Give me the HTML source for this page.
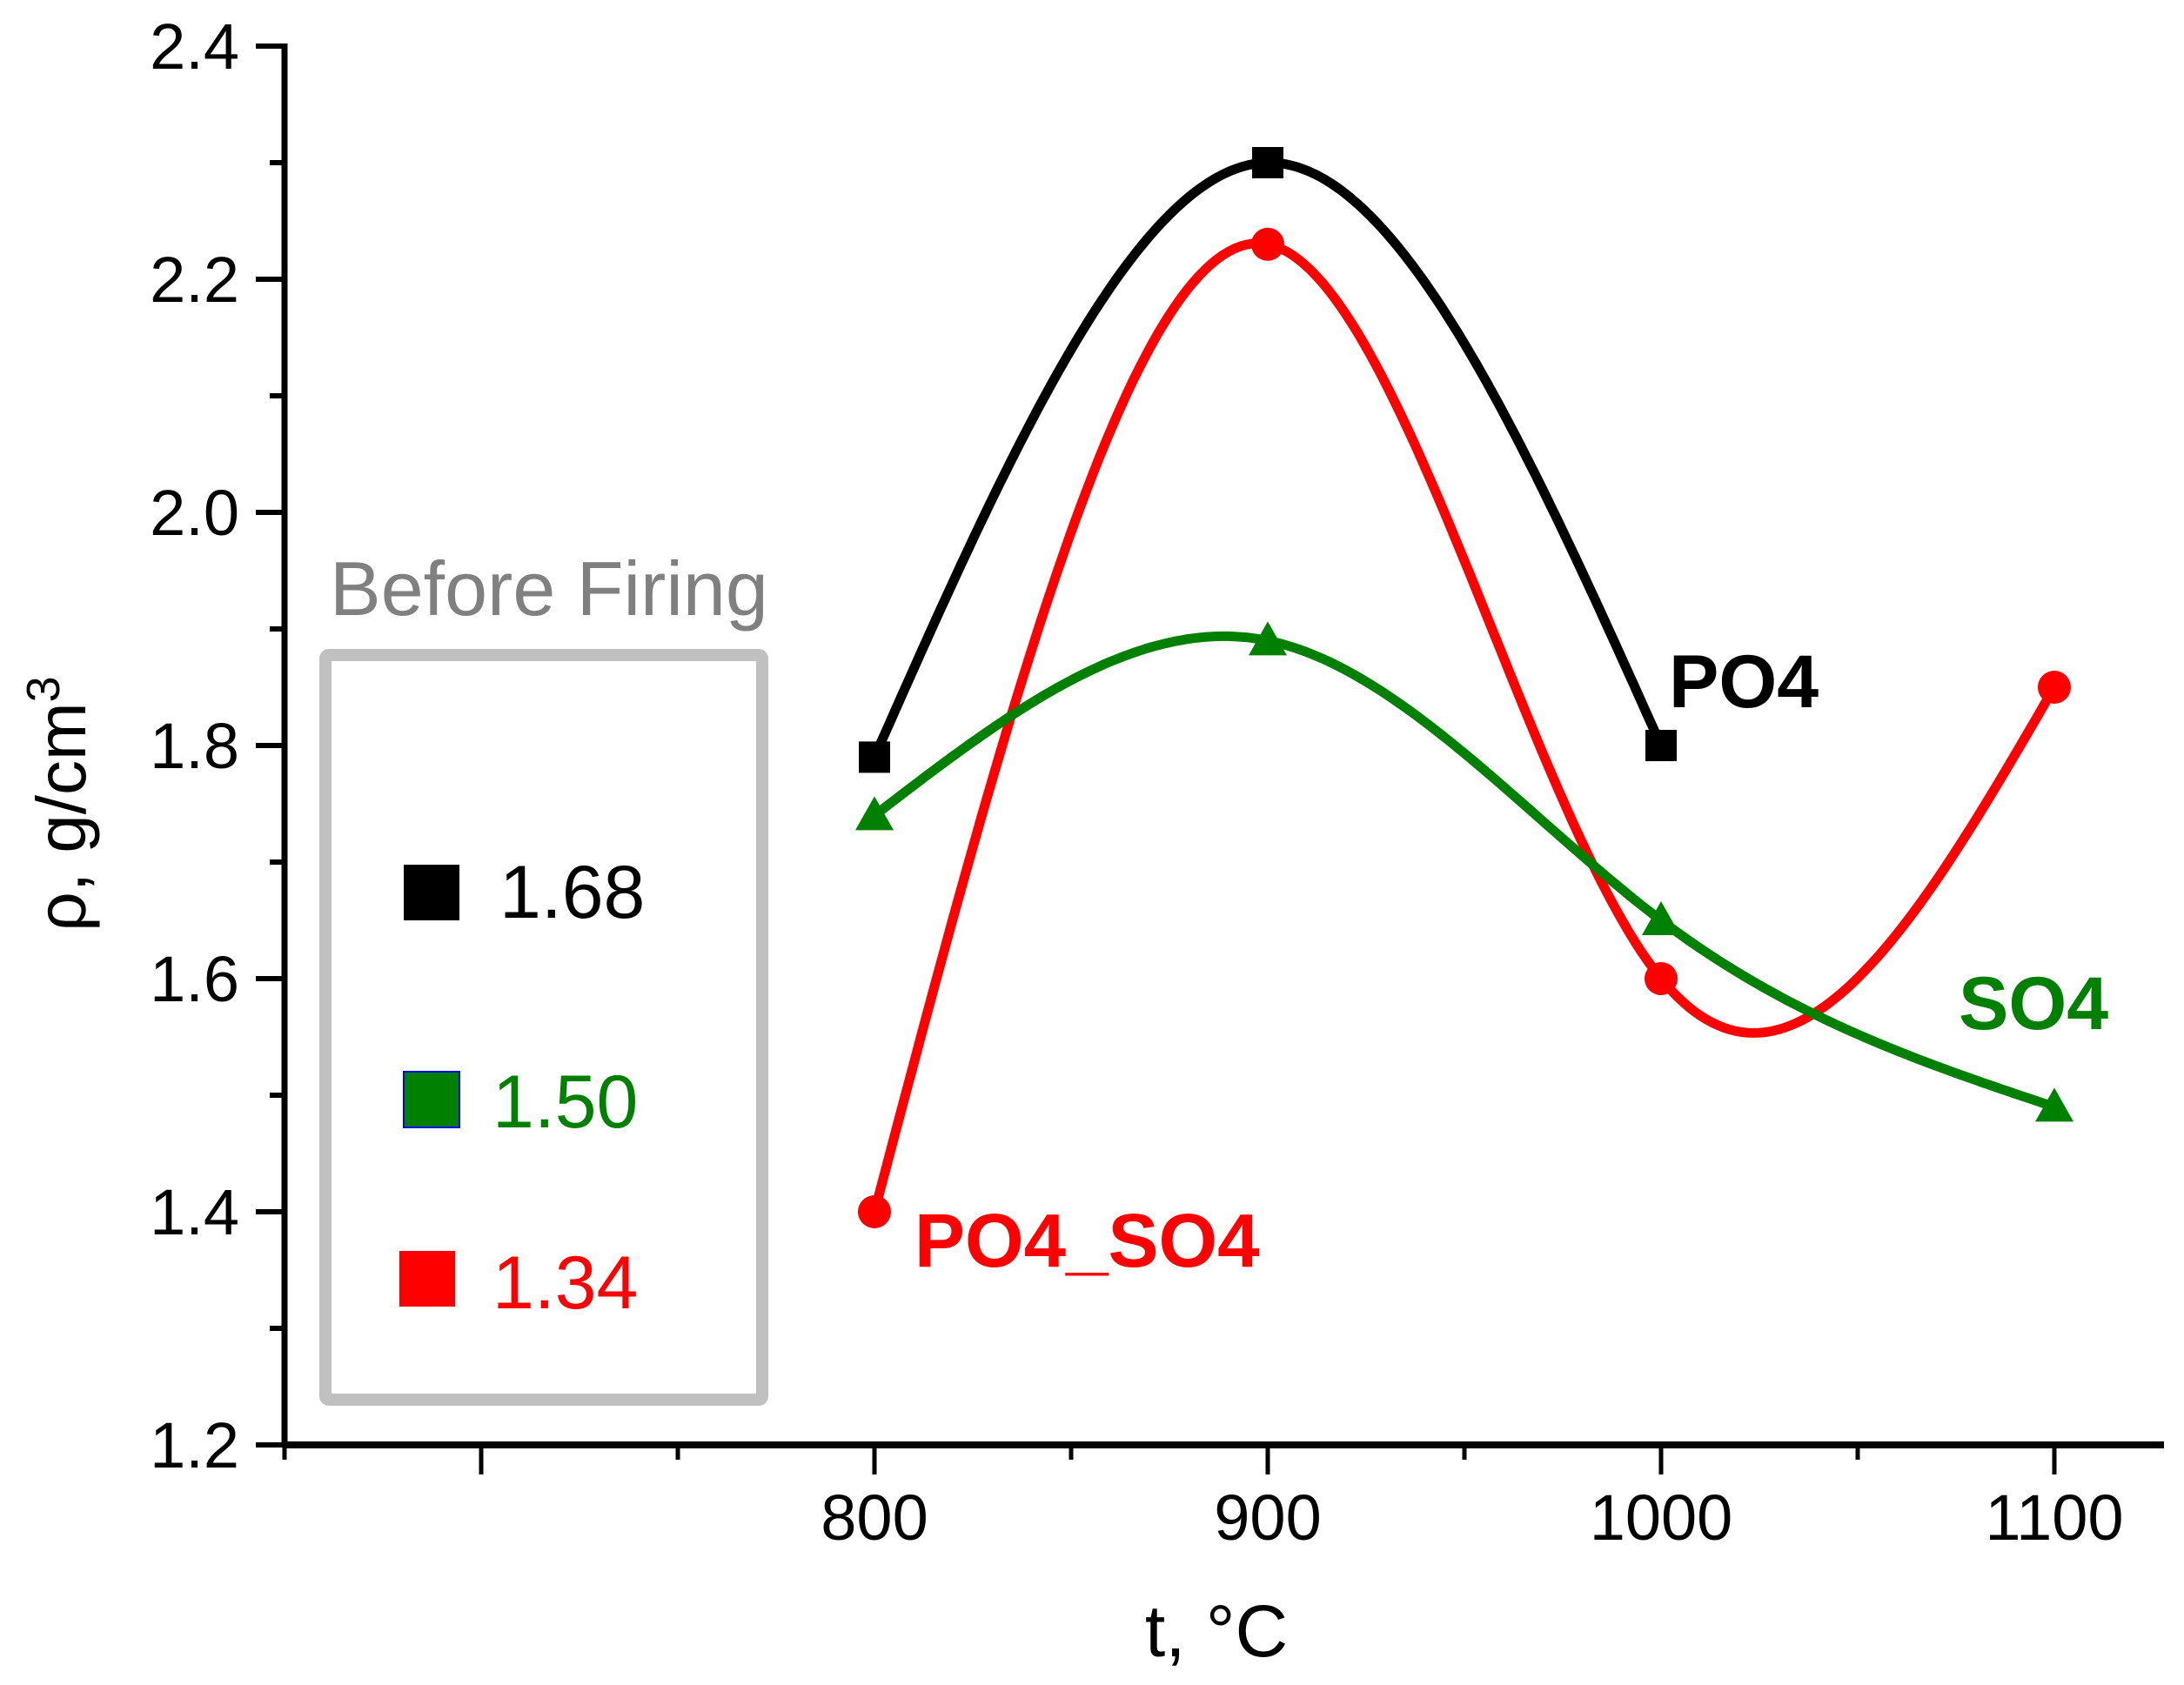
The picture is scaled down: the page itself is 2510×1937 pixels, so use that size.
<!DOCTYPE html>
<html><head><meta charset="utf-8"><style>
html,body{margin:0;padding:0;background:#fff;}
svg{display:block;font-family:"Liberation Sans",Arial,sans-serif;}
</style></head><body>
<svg id="chart" width="2510" height="1937" viewBox="0 0 2510 1937">
<g id="axes"></g>
<g id="series"></g>
<g id="legend">
  <text x="379" y="707" font-size="88" fill="#808080">Before Firing</text>
  <rect x="374" y="753" width="502" height="856" fill="none" stroke="#c0c0c0" stroke-width="14" rx="4"/>
  <rect x="464" y="994" width="64" height="64" fill="#000"/>
  <text x="574" y="1055" font-size="86" fill="#000">1.68</text>
  <rect x="464" y="1232" width="64" height="64" fill="#008000" stroke="#0000ff" stroke-width="2"/>
  <text x="566" y="1296" font-size="86" fill="#008000">1.50</text>
  <rect x="459" y="1438" width="64" height="64" fill="#ff0000"/>
  <text x="566" y="1504" font-size="86" fill="#ff0000">1.34</text>
</g>
<text x="1918" y="813" font-size="86" font-weight="bold" fill="#000">PO4</text>
<text x="2251" y="1183" font-size="86" font-weight="bold" fill="#008000">SO4</text>
<text x="1051" y="1456" font-size="87" font-weight="bold" fill="#ff0000">PO4_SO4</text>
<text x="1398" y="1904" font-size="84" text-anchor="middle">t, °C</text>
<text transform="translate(98,924) rotate(-90)" font-size="80" text-anchor="middle">ρ, g/cm<tspan dy="-30" font-size="54">3</tspan></text>
</svg>
<script>
const xTicks = [700, 800, 900, 1000, 1100];
const xTickLabels = ["", "800", "900", "1000", "1100"];
const xMinor = [650, 750, 850, 950, 1050];
const yTicks = [1.2, 1.4, 1.6, 1.8, 2.0, 2.2, 2.4];
const yTickLabels = ["1.2", "1.4", "1.6", "1.8", "2.0", "2.2", "2.4"];
const yMinor = [1.3, 1.5, 1.7, 1.9, 2.1, 2.3];
const po4X = [800, 900, 1000];
const po4Y = [1.79, 2.30, 1.80];
const so4X = [800, 900, 1000, 1100];
const so4Y = [1.74, 1.89, 1.65, 1.49];
const mixX = [800, 900, 1000, 1100];
const mixY = [1.40, 2.23, 1.60, 1.85];

const NS = "http://www.w3.org/2000/svg";
function sx(v){ return 1005 + (v - 800) * 4.52; }
function sy(v){ return 1661 - (v - 1.2) * 1340; }
function mk(tag, attrs, parent){
  const e = document.createElementNS(NS, tag);
  for (const k in attrs) e.setAttribute(k, attrs[k]);
  parent.appendChild(e);
  return e;
}
const axes = document.getElementById('axes');
const X0 = 327, X1 = 2487, Y0 = 1661, Ytop = sy(2.4);
let l = mk('line', {x1:X0, y1:Y0, x2:X1, y2:Y0, stroke:'#000', 'stroke-width':8}, axes);


l = mk('line', {x1:X0, y1:Y0+3, x2:X0, y2:Ytop-3, stroke:'#000', 'stroke-width':7}, axes);


xTicks.forEach((v,i)=>{
  const t = mk('line', {x1:sx(v), y1:Y0, x2:sx(v), y2:Y0+34, stroke:'#000', 'stroke-width':5}, axes);
  
  
  if (xTickLabels[i]) {
    const tx = mk('text', {x:sx(v), y:1770, 'font-size':74, 'text-anchor':'middle'}, axes);
    tx.textContent = xTickLabels[i];
    
    
  }
});
xMinor.forEach(v=>{
  const t = mk('line', {x1:sx(v), y1:Y0, x2:sx(v), y2:Y0+17, stroke:'#000', 'stroke-width':5}, axes);
  
  
});
yTicks.forEach((v,i)=>{
  const t = mk('line', {x1:X0-33, y1:sy(v), x2:X0, y2:sy(v), stroke:'#000', 'stroke-width':6}, axes);
  
  
  const tx = mk('text', {x:275, y:sy(v)+26, 'font-size':74, 'text-anchor':'end'}, axes);
  tx.textContent = yTickLabels[i];
  
  
});
yMinor.forEach(v=>{
  const t = mk('line', {x1:X0-17, y1:sy(v), x2:X0, y2:sy(v), stroke:'#000', 'stroke-width':6}, axes);
  
  
});

function spline(xs, ys){
  const n = xs.length;
  if (n < 3) return t => ys[0] + (ys[1]-ys[0])*(t-xs[0])/(xs[1]-xs[0]);
  const h = [], m = new Array(n).fill(0);
  for (let i=0;i<n-1;i++) h.push(xs[i+1]-xs[i]);
  const A=[],B=[],C=[],D=[];
  for (let i=1;i<n-1;i++){
    A.push(h[i-1]); B.push(2*(h[i-1]+h[i])); C.push(h[i]);
    D.push(6*((ys[i+1]-ys[i])/h[i]-(ys[i]-ys[i-1])/h[i-1]));
  }
  const k = D.length;
  for (let i=1;i<k;i++){ const w=A[i]/B[i-1]; B[i]-=w*C[i-1]; D[i]-=w*D[i-1]; }
  const sol = new Array(k);
  for (let i=k-1;i>=0;i--) sol[i]=(D[i]-(i<k-1?C[i]*sol[i+1]:0))/B[i];
  for (let i=0;i<k;i++) m[i+1]=sol[i];
  return function(t){
    let i = 0; while (i < n-2 && t > xs[i+1]) i++;
    const hi=h[i], u=xs[i+1]-t, v=t-xs[i];
    return m[i]*u*u*u/(6*hi)+m[i+1]*v*v*v/(6*hi)+(ys[i]/hi-m[i]*hi/6)*u+(ys[i+1]/hi-m[i+1]*hi/6)*v;
  };
}
const ser = document.getElementById('series');
function drawSeries(xs, ys, color, name, marker){
  const f = spline(xs, ys);
  let d = '';
  const x0 = xs[0], x1 = xs[xs.length-1];
  for (let s=0;s<=200;s++){
    const t = x0 + (x1-x0)*s/200;
    d += (s?'L':'M') + sx(t).toFixed(1) + ',' + sy(f(t)).toFixed(1);
  }
  const p = mk('path', {d:d, fill:'none', stroke:color, 'stroke-width':11, 'stroke-linejoin':'round'}, ser);
  
  
  xs.forEach((x,i)=>{
    const cx = sx(x), cy = sy(ys[i]);
    let e;
    if (marker==='square') e = mk('rect', {x:cx-18, y:cy-18, width:36, height:36, fill:color}, ser);
    else if (marker==='circle') e = mk('circle', {cx:cx, cy:cy, r:19, fill:color}, ser);
    else e = mk('polygon', {points:`${cx},${cy-22} ${cx+22},${cy+17} ${cx-22},${cy+17}`, fill:color}, ser);
    
    
  });
}
drawSeries(po4X, po4Y, '#000000', 'po4', 'square');
drawSeries(mixX, mixY, '#ff0000', 'po4-so4', 'circle');
drawSeries(so4X, so4Y, '#008000', 'so4', 'triangle');
</script>
</body></html>
